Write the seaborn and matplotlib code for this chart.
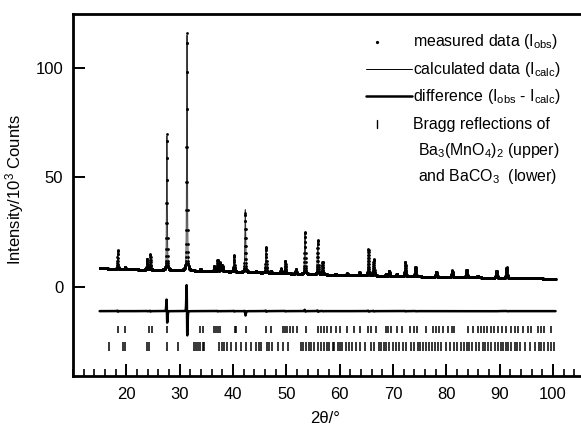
import numpy as np
import pandas as pd
import matplotlib
matplotlib.use("Agg")
import matplotlib.pyplot as plt
import seaborn as sns
from matplotlib.ticker import MultipleLocator, FixedLocator

# Background knots (2theta, intensity / 10^3 counts)
bg_2theta = [15, 20, 30, 40, 50, 60, 70, 80, 90, 100.5]
bg_counts = [8.6, 8.1, 7.6, 7.0, 6.2, 5.5, 5.0, 4.6, 4.2, 3.8]

peak_pos = [18.4, 19.8, 23.9, 24.5, 27.6, 31.36, 33.9, 36.5, 37.1, 37.6, 38.0,
            40.2, 42.3, 44.3, 46.2, 47.1, 49.0, 49.8, 51.8, 53.5, 55.9, 56.8,
            59.2, 61.4, 63.7, 65.4, 66.4, 68.7, 69.3, 70.7, 72.3, 74.2, 78.1,
            81.1, 83.8, 85.9, 89.4, 91.3]
peak_obs = [8.5, 1.0, 5.0, 7.0, 62.0, 108.5, 1.0, 2.4, 5.2, 4.0, 3.0,
            7.6, 27.0, 0.8, 11.8, 1.0, 2.2, 5.7, 2.1, 19.3, 15.6, 5.6,
            0.6, 0.8, 1.4, 12.0, 7.5, 1.0, 2.3, 1.0, 6.5, 4.4, 2.4,
            3.0, 3.4, 0.8, 3.3, 4.8]
peak_calc = [8.5, 1.0, 5.0, 7.0, 62.0, 108.0, 1.0, 2.4, 5.2, 4.0, 3.0,
             7.6, 28.5, 0.8, 11.8, 1.0, 2.2, 5.7, 2.1, 19.0, 15.6, 5.6,
             0.6, 0.8, 1.4, 12.0, 7.5, 1.0, 2.3, 1.0, 6.5, 4.4, 2.4,
             3.0, 3.4, 0.8, 3.3, 4.8]
peak_shift = [0.003, 0, 0.002, 0.003, 0.010, 0.013, 0, 0, 0.003, 0.002, 0,
              0.003, 0.004, 0, 0.003, 0, 0, 0.003, 0, 0.003, 0.003, 0.002,
              0, 0, 0, 0.003, 0.003, 0, 0, 0, 0.003, 0.002, 0,
              0.002, 0, 0, 0.002, 0.003]

# Bragg reflection markers
bragg_upper = [18.4, 19.8, 24.3, 24.9, 27.6, 31.4, 33.9, 34.4, 36.5, 36.9, 37.2,
               37.6, 40.3, 40.6, 42.4, 46.2, 47.1, 49.3, 49.7, 50.1, 50.6, 51.2,
               52.0, 53.7, 55.9, 56.5, 57.0, 57.6, 58.3, 59.3, 60.1, 61.4, 62.6,
               63.9, 65.4, 65.9, 66.8, 68.7, 69.1, 69.6, 70.7, 71.6, 73.1, 73.9,
               74.5, 76.2, 77.5, 78.1, 78.7, 79.3, 80.3, 81.0, 81.5, 84.0, 85.0,
               85.9, 86.5, 87.0, 87.7, 88.3, 89.0, 89.7, 90.4, 91.2, 92.2, 92.8,
               93.5, 94.3, 95.3, 95.9, 97.2, 97.7, 98.4, 99.7]
bragg_lower = [16.8, 19.3, 19.7, 23.9, 24.2, 27.6, 29.6, 32.6, 33.1, 33.5, 33.9,
               34.3, 34.6, 37.4, 37.9, 38.4, 38.9, 39.7, 40.5, 41.5, 42.4, 43.4,
               44.3, 44.8, 45.3, 46.4, 46.8, 47.4, 48.5, 49.3, 50.3, 52.7, 53.2,
               53.7, 54.3, 54.7, 55.2, 55.9, 56.5, 57.1, 57.6, 58.0, 58.7, 59.0,
               59.6, 60.1, 60.5, 61.2, 61.8, 62.4, 63.1, 63.9, 64.8, 65.8, 66.4,
               67.3, 67.8, 68.3, 68.7, 69.3, 70.0, 70.6, 71.2, 71.8, 72.4, 73.4,
               74.0, 74.6, 75.1, 75.6, 76.2, 76.8, 77.4, 77.9, 78.4, 79.0, 80.0,
               80.6, 81.4, 82.0, 82.8, 83.4, 83.9, 84.3, 84.9, 85.6, 86.2, 86.8,
               87.3, 87.8, 88.4, 89.1, 89.7, 90.2, 90.6, 91.1, 91.6, 92.2, 92.8,
               93.3, 93.9, 94.7, 95.6, 96.6, 97.3, 97.8, 98.4, 99.1, 99.7, 100.2]

diff_offset = -11.0


def pseudo_voigt(x, pos, height, fwhm, eta=0.3):
    g = np.exp(-4 * np.log(2) * ((x - pos) / fwhm) ** 2)
    l = 1.0 / (1.0 + 4 * ((x - pos) / fwhm) ** 2)
    return height * ((1 - eta) * g + eta * l)


two_theta = np.round(np.arange(15.0, 100.5, 0.02), 2)
background = np.interp(two_theta, bg_2theta, bg_counts)
i_obs = background.copy()
i_calc = background.copy()
for pos, ho, hc, sh in zip(peak_pos, peak_obs, peak_calc, peak_shift):
    fwhm = 0.14 + 0.0015 * (pos - 15)
    i_obs += pseudo_voigt(two_theta, pos, ho, fwhm)
    i_calc += pseudo_voigt(two_theta, pos + sh, hc, fwhm)

df = pd.DataFrame({"two_theta": two_theta, "obs": i_obs, "calc": i_calc,
                   "diff": i_obs - i_calc + diff_offset})

sns.set_theme(style="ticks")
plt.rcParams["font.family"] = ["Liberation Sans", "DejaVu Sans"]
plt.rcParams["mathtext.fontset"] = "custom"
plt.rcParams["mathtext.rm"] = "Liberation Sans"
plt.rcParams["mathtext.default"] = "regular"

fig = plt.figure(figsize=(5.81, 4.30), dpi=100)
ax = fig.add_axes([73 / 581, 54 / 430, 512 / 581, 362 / 430])

sns.scatterplot(data=df, x="two_theta", y="obs", ax=ax, color="black",
                s=4, linewidth=0, marker="o", zorder=3)
sns.lineplot(data=df, x="two_theta", y="calc", ax=ax, color="#333333",
             linewidth=0.7, estimator=None, zorder=2)
sns.lineplot(data=df, x="two_theta", y="diff", ax=ax, color="black",
             linewidth=1.8, estimator=None)
ax.vlines(bragg_upper, -21.2, -17.8, color="black", linewidth=1.1)
ax.vlines(bragg_lower, -29.2, -25.0, color="black", linewidth=1.1)

ax.set_xlim(10, 106)
ax.set_ylim(-40.6, 124.6)
ax.xaxis.set_major_locator(FixedLocator(list(range(20, 101, 10))))
ax.xaxis.set_minor_locator(MultipleLocator(2))
ax.yaxis.set_major_locator(FixedLocator([0, 50, 100]))
ax.tick_params(axis="both", which="major", direction="in", length=8.5,
               width=1.4, labelsize=12, color="black", labelcolor="black")
ax.tick_params(axis="x", which="major", pad=8)
ax.tick_params(axis="y", which="major", pad=7)
ax.tick_params(axis="x", which="minor", direction="in", length=5, width=1.4)
for side in ["left", "bottom", "top"]:
    ax.spines[side].set_linewidth(2.0)
    ax.spines[side].set_color("black")
ax.spines["right"].set_visible(False)

ax.set_xlabel("2θ/°", fontsize=12, color="black")
ax.set_ylabel("Intensity/10$^3$ Counts", fontsize=12, color="black")
ax.xaxis.set_label_coords(0.492, -0.097)
ax.yaxis.set_label_coords(-0.092, 0.514)

# Legend drawn by hand in axes fraction
tr = ax.transAxes
ax.plot([0.594], [0.923], marker="o", markersize=1.3, color="black", transform=tr)
ax.plot([0.572, 0.662], [0.848, 0.848], color="black", linewidth=0.7, transform=tr)
ax.plot([0.572, 0.662], [0.773, 0.773], color="black", linewidth=1.8, transform=tr)
ax.plot([0.594, 0.594], [0.686, 0.708], color="black", linewidth=1.0, transform=tr)
legend_rows = [
    (0.664, 0.923, "measured data (I$_{obs}$)"),
    (0.664, 0.848, "calculated data (I$_{calc}$)"),
    (0.664, 0.773, "difference (I$_{obs}$ - I$_{calc}$)"),
    (0.664, 0.696, "Bragg reflections of"),
    (0.674, 0.624, "Ba$_3$(MnO$_4$)$_2$ (upper)"),
    (0.674, 0.550, "and BaCO$_3$  (lower)"),
]
for lx, ly, txt in legend_rows:
    ax.text(lx, ly, txt, transform=tr, fontsize=11.4, va="center", ha="left",
            color="black")

fig.savefig("out.png", dpi=100)
